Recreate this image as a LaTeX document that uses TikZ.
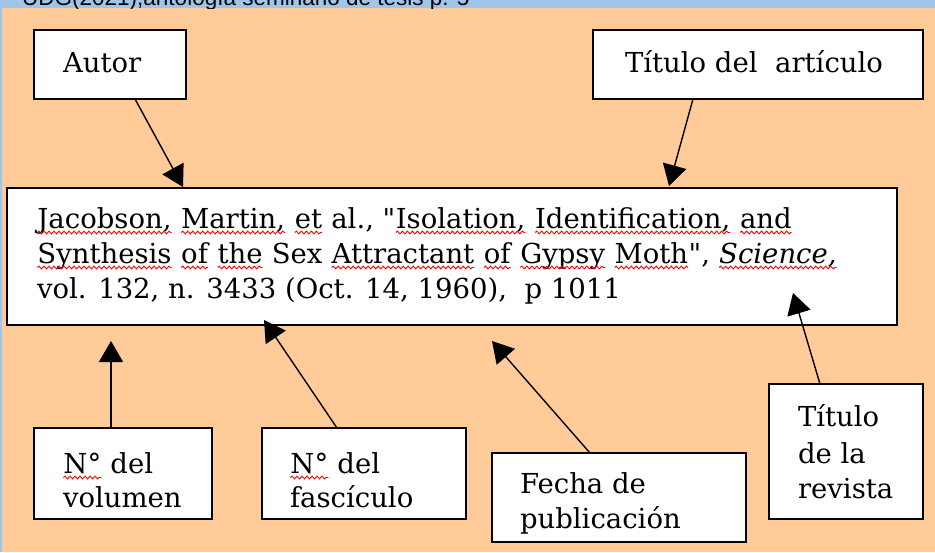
\documentclass[tikz,border=0pt]{standalone}
\usepackage{fontspec}
\setmainfont{DejaVu Serif}[Ligatures=TeXOff]
\newfontfamily\hdrfont{Liberation Sans}
\usetikzlibrary{arrows.meta,decorations.pathmorphing}
\definecolor{bgorange}{RGB}{255,204,153}
\definecolor{barblue}{RGB}{159,197,232}
\newcommand\wv[1]{\tikz[baseline=(w.base),x=1pt,y=1pt]{\node[inner sep=0pt,outer sep=0pt,draw=none,fill=none,anchor=center](w){#1};\draw[red,line width=0.9pt,decorate,decoration={snake,segment length=5pt,amplitude=1.4pt}]([yshift=-4.5pt]w.base west)--([yshift=-4.5pt]w.base east);}}
\tikzset{
  box/.style={draw=black,line width=1.6pt,fill=white,inner sep=0pt,outer sep=0pt},
  lbl/.style={inner sep=0pt,outer sep=0pt,anchor=base west,font=\fontsize{27.5pt}{35pt}\selectfont},
  arr/.style={line width=1.4pt,-{Triangle[length=21pt,width=24pt]}}
}
\begin{document}
\begin{tikzpicture}[x=1pt,y=-1pt]
\useasboundingbox (0,0) rectangle (935,552);
\fill[barblue] (0,0) rectangle (935,552);
\fill[bgorange] (2,8) rectangle (935,552);
\begin{scope}
\clip (2,0) rectangle (935,8);
\node[inner sep=0pt,anchor=base west,font=\hdrfont\fontsize{22.5pt}{26pt}\selectfont] (hdr) at (22,5) {UDG(2021),antología seminario de tesis p. 5};
\end{scope}
% boxes
\node[box,minimum width=152pt,minimum height=69pt] (autor) at (110,64.5) {};
\node[box,minimum width=330pt,minimum height=69pt] (titulo) at (758,64.5) {};
\node[box,minimum width=890pt,minimum height=137pt] (main) at (452,256.5) {};
\node[box,minimum width=178pt,minimum height=91pt] (vol) at (123,473.5) {};
\node[box,minimum width=204pt,minimum height=91pt] (fasc) at (364,473.5) {};
\node[box,minimum width=254pt,minimum height=89pt] (fecha) at (619,497.5) {};
\node[box,minimum width=154pt,minimum height=135pt] (revista) at (846,451.5) {};
% texts
\node[lbl] (tautor) at (63,72) {Autor};
\node[lbl] (ttitulo) at (625,72) {Título del~ artículo};
\node[lbl] (m1) at (37,228) {\wv{Jacobson,} \wv{Martin,} \wv{et} al., "\wv{Isolation,} \wv{Identification,} \wv{and}};
\node[lbl] (m2) at (37,263) {\wv{Synthesis} \wv{of} \wv{the} Sex \wv{Attractant} \wv{of} \wv{Gypsy} \wv{Moth}", \wv{\textit{Science,}}};
\node[lbl] (m3) at (37,298) {vol. 132, n. 3433 (Oct. 14, 1960),~ p 1011};
\node[lbl] (v1) at (63,473) {\wv{N°} del};
\node[lbl] (v2) at (63,507) {volumen};
\node[lbl] (f1) at (290,473) {\wv{N°} del};
\node[lbl] (f2) at (290,507) {fascículo};
\node[lbl] (p1) at (520,493) {Fecha de};
\node[lbl] (p2) at (520,528) {publicación};
\node[lbl] (r1) at (798,426) {Título};
\node[lbl] (r2) at (798,463) {de la};
\node[lbl] (r3) at (798,498) {revista};
% arrow tips
\coordinate (ta) at (183,187);
\coordinate (tt) at (669,186);
\coordinate (tv) at (111,341);
\coordinate (tf) at (264,320);
\coordinate (tp) at (492,341);
\coordinate (tr) at (793,293);
\draw[arr] ([xshift=25pt]autor.south) -- (ta);
\draw[arr] ([xshift=-65pt]titulo.south) -- (tt);
\draw[arr] ([xshift=-12pt]vol.north) -- (tv);
\draw[arr] ([xshift=-27pt]fasc.north) -- (tf);
\draw[arr] ([xshift=-29pt]fecha.north) -- (tp);
\draw[arr] ([xshift=-26pt]revista.north) -- (tr);
\end{tikzpicture}
\end{document}
